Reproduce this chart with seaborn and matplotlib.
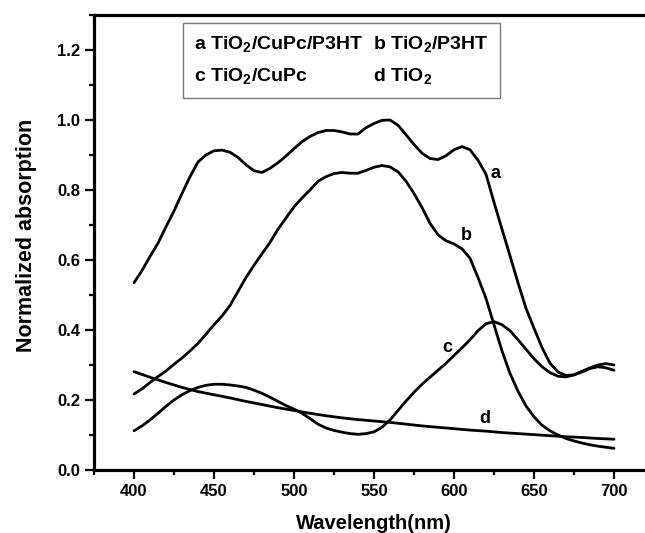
import numpy as np
import pandas as pd
import matplotlib
matplotlib.use("Agg")
import matplotlib.pyplot as plt
import seaborn as sns

# ---------------- data ----------------
wl_ab = [400, 405, 410, 415, 420, 425, 430, 435, 440, 445, 450, 455, 460, 465, 470,
         475, 480, 485, 490, 495, 500, 505, 510, 515, 520, 525, 530, 535, 540, 545,
         550, 555, 560, 565, 570, 575, 580, 585, 590, 595, 600, 605, 610, 615, 620,
         625, 630, 635, 640, 645, 650, 655, 660, 665, 670, 675, 680, 685, 690, 695, 700]

a_vals = [0.535, 0.570, 0.610, 0.648, 0.695, 0.740, 0.790, 0.838, 0.880, 0.900,
          0.912, 0.914, 0.908, 0.893, 0.872, 0.855, 0.850, 0.862, 0.878, 0.897,
          0.918, 0.938, 0.953, 0.964, 0.970, 0.970, 0.966, 0.960, 0.960, 0.978,
          0.990, 0.999, 1.000, 0.985, 0.958, 0.930, 0.905, 0.890, 0.887, 0.898,
          0.915, 0.924, 0.915, 0.885, 0.845, 0.765, 0.688, 0.612, 0.535, 0.462,
          0.405, 0.350, 0.305, 0.280, 0.270, 0.272, 0.280, 0.290, 0.295, 0.292, 0.285]

b_vals = [0.217, 0.232, 0.250, 0.267, 0.283, 0.302, 0.320, 0.340, 0.362, 0.388,
          0.415, 0.440, 0.470, 0.510, 0.550, 0.585, 0.618, 0.650, 0.688, 0.720,
          0.752, 0.777, 0.800, 0.825, 0.838, 0.847, 0.850, 0.848, 0.848, 0.856,
          0.865, 0.870, 0.866, 0.852, 0.825, 0.790, 0.750, 0.705, 0.672, 0.655,
          0.646, 0.632, 0.605, 0.550, 0.490, 0.415, 0.340, 0.276, 0.225, 0.183,
          0.152, 0.128, 0.112, 0.100, 0.090, 0.083, 0.077, 0.072, 0.068, 0.065, 0.062]

c_vals = [0.112, 0.126, 0.143, 0.162, 0.182, 0.200, 0.215, 0.227, 0.236, 0.242,
          0.245, 0.245, 0.243, 0.240, 0.236, 0.228, 0.219, 0.208, 0.196, 0.184,
          0.174, 0.162, 0.147, 0.131, 0.120, 0.113, 0.108, 0.104, 0.102, 0.104,
          0.109, 0.122, 0.143, 0.170, 0.197, 0.222, 0.245, 0.265, 0.285, 0.305,
          0.327, 0.349, 0.372, 0.398, 0.418, 0.424, 0.415, 0.398, 0.372, 0.345,
          0.318, 0.295, 0.278, 0.268, 0.266, 0.272, 0.282, 0.292, 0.300, 0.304, 0.300]

wl_d = [400, 410, 420, 430, 440, 450, 460, 470, 480, 490, 500, 510, 520, 530, 540,
        550, 560, 570, 580, 590, 600, 610, 620, 630, 640, 650, 660, 670, 680, 690, 700]
d_vals = [0.281, 0.265, 0.250, 0.236, 0.224, 0.215, 0.206, 0.196, 0.187, 0.178,
          0.170, 0.162, 0.155, 0.149, 0.144, 0.140, 0.136, 0.131, 0.126, 0.122,
          0.118, 0.114, 0.111, 0.107, 0.104, 0.101, 0.098, 0.095, 0.093, 0.090, 0.088]

series_names = ["a", "b", "c", "d"]
legend_labels = {"a": "a TiO$_2$/CuPc/P3HT", "b": "b TiO$_2$/P3HT",
                 "c": "c TiO$_2$/CuPc", "d": "d TiO$_2$"}
curve_label_pos = {"a": (626, 0.846), "b": (607.5, 0.671),
                   "c": (595.6, 0.349), "d": (619.4, 0.146)}

x_label = "Wavelength(nm)"
y_label = "Normalized absorption"

# ---------------- style ----------------
sns.set_theme(style="ticks")
plt.rcParams["font.family"] = ["Liberation Sans", "DejaVu Sans"]
plt.rcParams["font.weight"] = "bold"
plt.rcParams["text.color"] = "black"
plt.rcParams["axes.labelcolor"] = "black"
plt.rcParams["xtick.color"] = "black"
plt.rcParams["ytick.color"] = "black"
plt.rcParams["xtick.labelcolor"] = "black"
plt.rcParams["ytick.labelcolor"] = "black"
plt.rcParams["mathtext.fontset"] = "custom"
plt.rcParams["mathtext.rm"] = "Liberation Sans:bold"
plt.rcParams["mathtext.it"] = "Liberation Sans:bold"
plt.rcParams["mathtext.bf"] = "Liberation Sans:bold"
plt.rcParams["mathtext.default"] = "rm"

frames = []
for name, xs, ys in [("a", wl_ab, a_vals), ("b", wl_ab, b_vals),
                     ("c", wl_ab, c_vals), ("d", wl_d, d_vals)]:
    frames.append(pd.DataFrame({"wavelength": xs, "absorption": ys, "sample": name}))
df = pd.concat(frames, ignore_index=True)

fig = plt.figure(figsize=(6.45, 5.33), dpi=100)
ax = fig.add_axes([94 / 645, 63 / 533, 560 / 645, 455 / 533])

for name in series_names:
    sub = df[df["sample"] == name]
    sns.lineplot(data=sub, x="wavelength", y="absorption", ax=ax, color="black",
                 linewidth=2.0, label=legend_labels[name], sort=True)
    lx, ly = curve_label_pos[name]
    ax.text(lx, ly, name, fontsize=13, fontweight="bold", ha="center", va="center",
            color="black")

ax.set_xlim(375, 725)
ax.set_ylim(0, 1.3)
ax.set_xticks(np.arange(400, 701, 50))
ax.set_xticks(np.arange(375, 726, 25), minor=True)
ax.set_yticks(np.arange(0, 1.21, 0.2))
ax.set_yticks(np.arange(0, 1.31, 0.1), minor=True)
ax.set_yticklabels([f"{v:.1f}" for v in np.arange(0, 1.21, 0.2)])

for side in ["left", "bottom", "top"]:
    ax.spines[side].set_linewidth(2.3)
    ax.spines[side].set_color("black")
ax.spines["right"].set_visible(False)

ax.tick_params(axis="both", which="major", direction="out", length=6.5, width=1.6,
               labelsize=12, pad=3.5, color="black", labelcolor="black")
ax.tick_params(axis="both", which="minor", direction="out", length=3.8, width=1.6,
               color="black")
ax.tick_params(top=False, right=False, which="both")
for lab in ax.get_xticklabels() + ax.get_yticklabels():
    lab.set_fontweight("bold")

ax.set_xlabel(x_label, fontsize=14.5, fontweight="bold", labelpad=11, color="black")
ax.set_ylabel(y_label, fontsize=15.5, fontweight="bold", color="black")
ax.yaxis.set_label_coords(-0.102, 0.516)

# legend: text-only entries in a 2x2 grid (rows: a b / c d)
h, l = ax.get_legend_handles_labels()
order = [0, 2, 1, 3]
leg = ax.legend([h[i] for i in order], [l[i] for i in order], ncol=2,
                handlelength=0, handletextpad=0, columnspacing=0.5,
                frameon=True, fancybox=False, shadow=False,
                loc="upper left", bbox_to_anchor=(183 / 645, 1 - 23 / 533),
                bbox_transform=fig.transFigure, borderaxespad=0,
                prop={"size": 14, "weight": "bold"}, labelspacing=0.62,
                borderpad=0.58, labelcolor="black")
leg.get_frame().set_edgecolor("#555555")
leg.get_frame().set_linewidth(1.0)
for lh in leg.legend_handles:
    lh.set_visible(False)

fig.savefig("out.png", dpi=100)
